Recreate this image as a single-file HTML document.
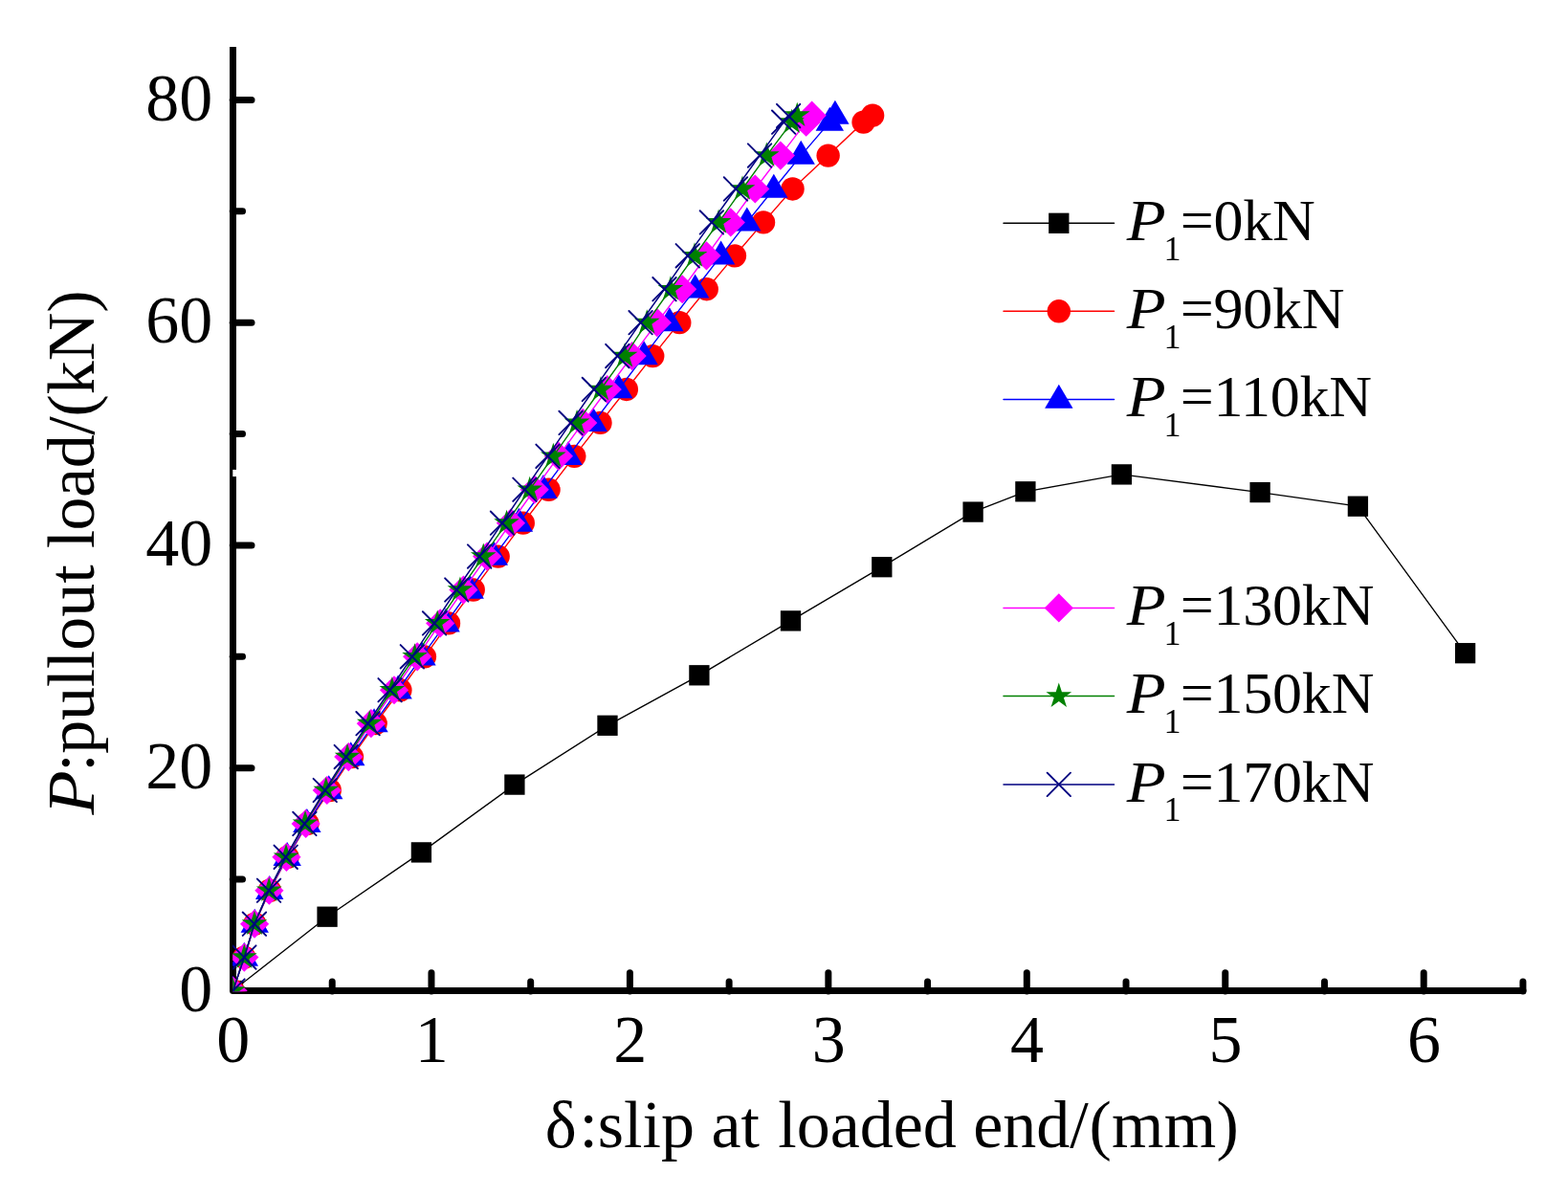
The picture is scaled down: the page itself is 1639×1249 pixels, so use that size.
<!DOCTYPE html>
<html lang="en"><head><meta charset="utf-8"><title>Pullout load vs slip at loaded end</title>
<style>html,body{margin:0;padding:0;background:#fff}body{width:1639px;height:1249px;overflow:hidden}svg{display:block}text{font-family:"Liberation Serif","DejaVu Serif",serif;fill:#000}.tk{font-size:70px}.lg{font-size:62px}.it{font-style:italic}.sub{font-size:36px}</style></head><body>
<svg width="1639" height="1249" viewBox="0 0 1639 1249">
<rect width="1639" height="1249" fill="#fff"/>
<defs><clipPath id="plot"><rect x="243.2" y="0" width="1400" height="1036.2"/></clipPath></defs>
<g stroke="#000" stroke-width="7" fill="none" stroke-linecap="round" stroke-linejoin="round">
<path stroke-linecap="butt" d="M243.5 49V1035.5"/>
<path d="M243.5 1035.5H1592"/>
<path d="M243.2 919.11h10.3"/>
<path d="M243.2 802.72h19.8"/>
<path d="M243.2 686.33h10.3"/>
<path d="M243.2 569.94h19.8"/>
<path d="M243.2 453.55h10.3"/>
<path d="M243.2 337.16h19.8"/>
<path d="M243.2 220.77h10.3"/>
<path d="M243.2 104.38h19.8"/>
<path d="M347.23 1036.1v-10"/>
<path d="M450.95 1036.1v-19.4"/>
<path d="M554.67 1036.1v-10"/>
<path d="M658.4 1036.1v-19.4"/>
<path d="M762.12 1036.1v-10"/>
<path d="M865.85 1036.1v-19.4"/>
<path d="M969.57 1036.1v-10"/>
<path d="M1073.3 1036.1v-19.4"/>
<path d="M1177.03 1036.1v-10"/>
<path d="M1280.75 1036.1v-19.4"/>
<path d="M1384.47 1036.1v-10"/>
<path d="M1488.2 1036.1v-19.4"/>
<path d="M1591.92 1036.1v-10"/>
</g>
<rect x="243.3" y="490.9" width="4.2" height="7.2" fill="#fff"/>
<text class="tk" text-anchor="end" x="222.2" y="1056.8">0</text>
<text class="tk" text-anchor="end" x="222.2" y="824.1">20</text>
<text class="tk" text-anchor="end" x="222.2" y="590.7">40</text>
<text class="tk" text-anchor="end" x="222.2" y="358.4">60</text>
<text class="tk" text-anchor="end" x="222.2" y="126.4">80</text>
<text class="tk" text-anchor="middle" x="243.8" y="1110.2">0</text>
<text class="tk" text-anchor="middle" x="451.25" y="1110.2">1</text>
<text class="tk" text-anchor="middle" x="658.7" y="1110.2">2</text>
<text class="tk" text-anchor="middle" x="866.15" y="1110.2">3</text>
<text class="tk" text-anchor="middle" x="1073.6" y="1110.2">4</text>
<text class="tk" text-anchor="middle" x="1281.05" y="1110.2">5</text>
<text class="tk" text-anchor="middle" x="1488.5" y="1110.2">6</text>
<text class="tk" y="1199.3"><tspan x="569.8">δ</tspan><tspan x="605.4">:slip at </tspan><tspan x="813.2">loaded </tspan><tspan x="1017.3">end/</tspan><tspan x="1138.5" letter-spacing="0.25">(mm)</tspan></text>
<text class="tk it" transform="translate(98.2 851.59) rotate(-90) scale(1.08 1)" x="0" y="0">P</text>
<text class="tk" transform="translate(98.2 853.49) rotate(-90)" x="46.76 65.7 100.4 135.2 154.25 173.69 208.69 243.69 262.94 280.34 299.09 333.59 364.15 398.85 418 441.31 476.31 526.86" y="0">:pullout load/(kN)</text>
<g clip-path="url(#plot)">
<polyline fill="none" stroke="#000" stroke-width="1.35" points="243.5,1035.5 342.05,958.2 440.4,890.9 537.9,820.1 635,758.3 730.9,705.8 826.5,648.9 921.8,592.7 1017.1,535.1 1071.9,513.8 1172.4,495.9 1317.1,514.6 1419.4,529.2 1531.6,682.7"/>
<rect x="331.4" y="947.55" width="21.3" height="21.3" fill="#000"/>
<rect x="429.75" y="880.25" width="21.3" height="21.3" fill="#000"/>
<rect x="527.25" y="809.45" width="21.3" height="21.3" fill="#000"/>
<rect x="624.35" y="747.65" width="21.3" height="21.3" fill="#000"/>
<rect x="720.25" y="695.15" width="21.3" height="21.3" fill="#000"/>
<rect x="815.85" y="638.25" width="21.3" height="21.3" fill="#000"/>
<rect x="911.15" y="582.05" width="21.3" height="21.3" fill="#000"/>
<rect x="1006.45" y="524.45" width="21.3" height="21.3" fill="#000"/>
<rect x="1061.25" y="503.15" width="21.3" height="21.3" fill="#000"/>
<rect x="1161.75" y="485.25" width="21.3" height="21.3" fill="#000"/>
<rect x="1306.45" y="503.95" width="21.3" height="21.3" fill="#000"/>
<rect x="1408.75" y="518.55" width="21.3" height="21.3" fill="#000"/>
<rect x="1520.95" y="672.05" width="21.3" height="21.3" fill="#000"/>
<rect x="232.85" y="1024.85" width="21.3" height="21.3" fill="#000"/>
<polyline fill="none" stroke="#f00" stroke-width="1.4" points="243.5,1035.5 255.32,1000.58 266.32,965.67 281.88,930.75 300.55,895.83 321.5,860.91 344.74,826 367.97,791.08 392.66,756.16 418.38,721.25 443.9,686.33 469,651.41 494.72,616.5 520.65,581.58 546.79,546.66 573.55,511.75 600.31,476.83 627.49,441.91 654.87,406.99 682.26,372.08 710.26,337.16 738.68,302.24 767.93,267.33 798.01,232.41 828.51,197.49 865.64,162.58 902.57,127.66 912.11,120.67"/>
<circle cx="243.5" cy="1035.5" r="12.2" fill="#f00"/>
<circle cx="255.32" cy="1000.58" r="12.2" fill="#f00"/>
<circle cx="266.32" cy="965.67" r="12.2" fill="#f00"/>
<circle cx="281.88" cy="930.75" r="12.2" fill="#f00"/>
<circle cx="300.55" cy="895.83" r="12.2" fill="#f00"/>
<circle cx="321.5" cy="860.91" r="12.2" fill="#f00"/>
<circle cx="344.74" cy="826" r="12.2" fill="#f00"/>
<circle cx="367.97" cy="791.08" r="12.2" fill="#f00"/>
<circle cx="392.66" cy="756.16" r="12.2" fill="#f00"/>
<circle cx="418.38" cy="721.25" r="12.2" fill="#f00"/>
<circle cx="443.9" cy="686.33" r="12.2" fill="#f00"/>
<circle cx="469" cy="651.41" r="12.2" fill="#f00"/>
<circle cx="494.72" cy="616.5" r="12.2" fill="#f00"/>
<circle cx="520.65" cy="581.58" r="12.2" fill="#f00"/>
<circle cx="546.79" cy="546.66" r="12.2" fill="#f00"/>
<circle cx="573.55" cy="511.75" r="12.2" fill="#f00"/>
<circle cx="600.31" cy="476.83" r="12.2" fill="#f00"/>
<circle cx="627.49" cy="441.91" r="12.2" fill="#f00"/>
<circle cx="654.87" cy="406.99" r="12.2" fill="#f00"/>
<circle cx="682.26" cy="372.08" r="12.2" fill="#f00"/>
<circle cx="710.26" cy="337.16" r="12.2" fill="#f00"/>
<circle cx="738.68" cy="302.24" r="12.2" fill="#f00"/>
<circle cx="767.93" cy="267.33" r="12.2" fill="#f00"/>
<circle cx="798.01" cy="232.41" r="12.2" fill="#f00"/>
<circle cx="828.51" cy="197.49" r="12.2" fill="#f00"/>
<circle cx="865.64" cy="162.58" r="12.2" fill="#f00"/>
<circle cx="902.57" cy="127.66" r="12.2" fill="#f00"/>
<circle cx="912.11" cy="120.67" r="12.2" fill="#f00"/>
<polyline fill="none" stroke="#00f" stroke-width="1.4" points="243.5,1035.5 255.32,1000.58 266.24,965.67 281.71,930.75 300.18,895.83 320.88,860.91 343.74,826 366.73,791.08 391.04,756.16 416.1,721.25 440.99,686.33 466.09,651.41 491.2,616.5 516.3,581.58 542.44,546.66 567.95,511.75 594.09,476.83 620.23,441.91 646.78,406.99 673.13,372.08 699.89,337.16 726.65,302.24 753.62,267.33 780.8,232.41 808.8,197.49 837.22,162.58 867.3,127.66 872.9,120.67"/>
<polygon fill="#00f" points="243.5,1019.7 258.2,1044.7 228.8,1044.7"/>
<polygon fill="#00f" points="255.32,984.78 270.02,1009.78 240.62,1009.78"/>
<polygon fill="#00f" points="266.24,949.87 280.94,974.87 251.54,974.87"/>
<polygon fill="#00f" points="281.71,914.95 296.41,939.95 267.01,939.95"/>
<polygon fill="#00f" points="300.18,880.03 314.88,905.03 285.48,905.03"/>
<polygon fill="#00f" points="320.88,845.12 335.58,870.12 306.18,870.12"/>
<polygon fill="#00f" points="343.74,810.2 358.44,835.2 329.04,835.2"/>
<polygon fill="#00f" points="366.73,775.28 381.43,800.28 352.03,800.28"/>
<polygon fill="#00f" points="391.04,740.36 405.74,765.36 376.34,765.36"/>
<polygon fill="#00f" points="416.1,705.45 430.8,730.45 401.4,730.45"/>
<polygon fill="#00f" points="440.99,670.53 455.69,695.53 426.29,695.53"/>
<polygon fill="#00f" points="466.09,635.61 480.79,660.61 451.39,660.61"/>
<polygon fill="#00f" points="491.2,600.7 505.9,625.7 476.5,625.7"/>
<polygon fill="#00f" points="516.3,565.78 531,590.78 501.6,590.78"/>
<polygon fill="#00f" points="542.44,530.86 557.14,555.86 527.74,555.86"/>
<polygon fill="#00f" points="567.95,495.94 582.65,520.95 553.25,520.95"/>
<polygon fill="#00f" points="594.09,461.03 608.79,486.03 579.39,486.03"/>
<polygon fill="#00f" points="620.23,426.11 634.93,451.11 605.53,451.11"/>
<polygon fill="#00f" points="646.78,391.19 661.48,416.19 632.08,416.19"/>
<polygon fill="#00f" points="673.13,356.28 687.83,381.28 658.43,381.28"/>
<polygon fill="#00f" points="699.89,321.36 714.59,346.36 685.19,346.36"/>
<polygon fill="#00f" points="726.65,286.44 741.35,311.44 711.95,311.44"/>
<polygon fill="#00f" points="753.62,251.53 768.32,276.53 738.92,276.53"/>
<polygon fill="#00f" points="780.8,216.61 795.5,241.61 766.1,241.61"/>
<polygon fill="#00f" points="808.8,181.69 823.5,206.69 794.1,206.69"/>
<polygon fill="#00f" points="837.22,146.78 851.92,171.78 822.52,171.78"/>
<polygon fill="#00f" points="867.3,111.86 882,136.86 852.6,136.86"/>
<polygon fill="#00f" points="872.9,104.87 887.6,129.87 858.2,129.87"/>
<polyline fill="none" stroke="#f0f" stroke-width="1.4" points="243.5,1035.5 255.32,1000.58 266.07,965.67 281.39,930.75 299.45,895.83 319.67,860.91 341.8,826 364.3,791.08 387.88,756.16 412.02,721.25 436.19,686.33 460.19,651.41 484.44,616.5 509.15,581.58 533.94,546.66 558.74,511.75 583.91,476.83 609.25,441.91 634.75,406.99 660.68,372.08 686.82,337.16 713.17,302.24 738.48,267.33 763.78,232.41 789.3,197.49 815.85,162.58 842.62,127.66 848.63,120.67"/>
<polygon fill="#f0f" points="243.5,1020.4 258.6,1035.5 243.5,1050.6 228.4,1035.5"/>
<polygon fill="#f0f" points="255.32,985.48 270.42,1000.58 255.32,1015.68 240.22,1000.58"/>
<polygon fill="#f0f" points="266.07,950.57 281.17,965.67 266.07,980.77 250.97,965.67"/>
<polygon fill="#f0f" points="281.39,915.65 296.49,930.75 281.39,945.85 266.29,930.75"/>
<polygon fill="#f0f" points="299.45,880.73 314.55,895.83 299.45,910.93 284.35,895.83"/>
<polygon fill="#f0f" points="319.67,845.81 334.77,860.91 319.67,876.01 304.57,860.91"/>
<polygon fill="#f0f" points="341.8,810.9 356.9,826 341.8,841.1 326.7,826"/>
<polygon fill="#f0f" points="364.3,775.98 379.4,791.08 364.3,806.18 349.2,791.08"/>
<polygon fill="#f0f" points="387.88,741.06 402.98,756.16 387.88,771.26 372.78,756.16"/>
<polygon fill="#f0f" points="412.02,706.15 427.12,721.25 412.02,736.35 396.92,721.25"/>
<polygon fill="#f0f" points="436.19,671.23 451.29,686.33 436.19,701.43 421.09,686.33"/>
<polygon fill="#f0f" points="460.19,636.31 475.29,651.41 460.19,666.51 445.09,651.41"/>
<polygon fill="#f0f" points="484.44,601.4 499.54,616.5 484.44,631.6 469.34,616.5"/>
<polygon fill="#f0f" points="509.15,566.48 524.25,581.58 509.15,596.68 494.05,581.58"/>
<polygon fill="#f0f" points="533.94,531.56 549.04,546.66 533.94,561.76 518.84,546.66"/>
<polygon fill="#f0f" points="558.74,496.64 573.84,511.75 558.74,526.85 543.64,511.75"/>
<polygon fill="#f0f" points="583.91,461.73 599.01,476.83 583.91,491.93 568.81,476.83"/>
<polygon fill="#f0f" points="609.25,426.81 624.35,441.91 609.25,457.01 594.15,441.91"/>
<polygon fill="#f0f" points="634.75,391.89 649.85,406.99 634.75,422.09 619.65,406.99"/>
<polygon fill="#f0f" points="660.68,356.98 675.78,372.08 660.68,387.18 645.58,372.08"/>
<polygon fill="#f0f" points="686.82,322.06 701.92,337.16 686.82,352.26 671.72,337.16"/>
<polygon fill="#f0f" points="713.17,287.14 728.27,302.24 713.17,317.34 698.07,302.24"/>
<polygon fill="#f0f" points="738.48,252.23 753.58,267.33 738.48,282.43 723.38,267.33"/>
<polygon fill="#f0f" points="763.78,217.31 778.88,232.41 763.78,247.51 748.68,232.41"/>
<polygon fill="#f0f" points="789.3,182.39 804.4,197.49 789.3,212.59 774.2,197.49"/>
<polygon fill="#f0f" points="815.85,147.48 830.95,162.58 815.85,177.68 800.75,162.58"/>
<polygon fill="#f0f" points="842.62,112.56 857.72,127.66 842.62,142.76 827.52,127.66"/>
<polygon fill="#f0f" points="848.63,105.57 863.73,120.67 848.63,135.77 833.53,120.67"/>
<polyline fill="none" stroke="#008000" stroke-width="1.4" points="243.5,1035.5 255.32,1000.58 265.99,965.67 281.22,930.75 299.07,895.83 319.04,860.91 340.8,826 363.05,791.08 386.27,756.16 409.86,721.25 433.57,686.33 457.2,651.41 480.96,616.5 505.25,581.58 529.58,546.66 553.72,511.75 578.35,476.83 603.07,441.91 628,406.99 653.09,372.08 676.24,337.16 700.93,302.24 726.03,267.33 751.13,232.41 776.02,197.49 801.33,162.58 827.68,127.66 833.28,120.67"/>
<polygon fill="#008000" points="243.5,1021.5 246.64,1031.17 256.81,1031.17 248.59,1037.15 251.73,1046.83 243.5,1040.85 235.27,1046.83 238.41,1037.15 230.19,1031.17 240.36,1031.17"/>
<polygon fill="#008000" points="255.32,986.58 258.47,996.25 268.64,996.26 260.41,1002.24 263.55,1011.91 255.32,1005.93 247.1,1011.91 250.24,1002.24 242.01,996.26 252.18,996.25"/>
<polygon fill="#008000" points="265.99,951.67 269.14,961.34 279.31,961.34 271.08,967.32 274.22,976.99 265.99,971.02 257.76,976.99 260.9,967.32 252.68,961.34 262.85,961.34"/>
<polygon fill="#008000" points="281.22,916.75 284.37,926.42 294.54,926.42 286.31,932.4 289.45,942.08 281.22,936.1 272.99,942.08 276.13,932.4 267.91,926.42 278.08,926.42"/>
<polygon fill="#008000" points="299.07,881.83 302.22,891.5 312.39,891.51 304.16,897.49 307.3,907.16 299.07,901.18 290.84,907.16 293.99,897.49 285.76,891.51 295.93,891.5"/>
<polygon fill="#008000" points="319.04,846.91 322.19,856.59 332.36,856.59 324.13,862.57 327.27,872.24 319.04,866.26 310.81,872.24 313.95,862.57 305.73,856.59 315.9,856.59"/>
<polygon fill="#008000" points="340.8,812 343.95,821.67 354.12,821.67 345.89,827.65 349.03,837.32 340.8,831.35 332.57,837.32 335.71,827.65 327.49,821.67 337.66,821.67"/>
<polygon fill="#008000" points="363.05,777.08 366.2,786.75 376.37,786.75 368.14,792.73 371.28,802.41 363.05,796.43 354.82,802.41 357.97,792.73 349.74,786.75 359.91,786.75"/>
<polygon fill="#008000" points="386.27,742.16 389.41,751.84 399.58,751.84 391.35,757.82 394.49,767.49 386.27,761.51 378.04,767.49 381.18,757.82 372.95,751.84 383.12,751.84"/>
<polygon fill="#008000" points="409.86,707.25 413,716.92 423.17,716.92 414.95,722.9 418.09,732.57 409.86,726.6 401.63,732.57 404.77,722.9 396.54,716.92 406.71,716.92"/>
<polygon fill="#008000" points="433.57,672.33 436.72,682 446.89,682 438.66,687.98 441.8,697.66 433.57,691.68 425.34,697.66 428.48,687.98 420.26,682 430.43,682"/>
<polygon fill="#008000" points="457.2,637.41 460.34,647.08 470.51,647.09 462.29,653.07 465.43,662.74 457.2,656.76 448.97,662.74 452.11,653.07 443.88,647.09 454.05,647.08"/>
<polygon fill="#008000" points="480.96,602.5 484.1,612.17 494.27,612.17 486.04,618.15 489.18,627.82 480.96,621.85 472.73,627.82 475.87,618.15 467.64,612.17 477.81,612.17"/>
<polygon fill="#008000" points="505.25,567.58 508.39,577.25 518.56,577.25 510.34,583.23 513.48,592.91 505.25,586.93 497.02,592.91 500.16,583.23 491.93,577.25 502.1,577.25"/>
<polygon fill="#008000" points="529.58,532.66 532.73,542.33 542.9,542.34 534.67,548.32 537.81,557.99 529.58,552.01 521.35,557.99 524.5,548.32 516.27,542.34 526.44,542.33"/>
<polygon fill="#008000" points="553.72,497.75 556.87,507.42 567.04,507.42 558.81,513.4 561.95,523.07 553.72,517.1 545.49,523.07 548.63,513.4 540.41,507.42 550.58,507.42"/>
<polygon fill="#008000" points="578.35,462.83 581.5,472.5 591.67,472.5 583.44,478.48 586.58,488.15 578.35,482.18 570.12,488.15 573.27,478.48 565.04,472.5 575.21,472.5"/>
<polygon fill="#008000" points="603.07,427.91 606.22,437.58 616.39,437.58 608.16,443.56 611.3,453.24 603.07,447.26 594.84,453.24 597.98,443.56 589.76,437.58 599.93,437.58"/>
<polygon fill="#008000" points="628,392.99 631.14,402.67 641.31,402.67 633.08,408.65 636.23,418.32 628,412.34 619.77,418.32 622.91,408.65 614.68,402.67 624.85,402.67"/>
<polygon fill="#008000" points="653.09,358.08 656.23,367.75 666.4,367.75 658.17,373.73 661.31,383.4 653.09,377.43 644.86,383.4 648,373.73 639.77,367.75 649.94,367.75"/>
<polygon fill="#008000" points="676.24,323.16 679.39,332.83 689.56,332.83 681.33,338.81 684.47,348.49 676.24,342.51 668.01,348.49 671.15,338.81 662.93,332.83 673.1,332.83"/>
<polygon fill="#008000" points="700.93,288.24 704.07,297.91 714.24,297.92 706.02,303.9 709.16,313.57 700.93,307.59 692.7,313.57 695.84,303.9 687.61,297.92 697.78,297.91"/>
<polygon fill="#008000" points="726.03,253.33 729.17,263 739.34,263 731.12,268.98 734.26,278.65 726.03,272.68 717.8,278.65 720.94,268.98 712.71,263 722.88,263"/>
<polygon fill="#008000" points="751.13,218.41 754.27,228.08 764.44,228.08 756.22,234.06 759.36,243.74 751.13,237.76 742.9,243.74 746.04,234.06 737.82,228.08 747.99,228.08"/>
<polygon fill="#008000" points="776.02,183.49 779.17,193.16 789.34,193.17 781.11,199.15 784.25,208.82 776.02,202.84 767.8,208.82 770.94,199.15 762.71,193.17 772.88,193.16"/>
<polygon fill="#008000" points="801.33,148.58 804.48,158.25 814.65,158.25 806.42,164.23 809.56,173.9 801.33,167.93 793.1,173.9 796.24,164.23 788.02,158.25 798.19,158.25"/>
<polygon fill="#008000" points="827.68,113.66 830.82,123.33 840.99,123.33 832.77,129.31 835.91,138.98 827.68,133.01 819.45,138.98 822.59,129.31 814.36,123.33 824.53,123.33"/>
<polygon fill="#008000" points="833.28,106.67 836.43,116.35 846.6,116.35 838.37,122.33 841.51,132 833.28,126.02 825.05,132 828.19,122.33 819.97,116.35 830.14,116.35"/>
<polyline fill="none" stroke="#000080" stroke-width="1.5" points="243.5,1035.5 255.32,1000.58 265.9,965.67 281.05,930.75 298.68,895.83 318.39,860.91 339.76,826 361.75,791.08 384.57,756.16 407.59,721.25 430.83,686.33 454.06,651.41 477.3,616.5 501.15,581.58 525.01,546.66 548.45,511.75 572.52,476.83 596.58,441.91 620.85,406.99 645.33,372.08 669.6,337.16 694.5,302.24 718.77,267.33 743.87,232.41 768.97,197.49 794.07,162.58 819.17,127.66 824.15,121.02"/>
<path fill="none" stroke="#000080" stroke-width="1.9" stroke-linecap="round" d="M231.3 1023.3L255.7 1047.7M231.3 1047.7L255.7 1023.3"/>
<path fill="none" stroke="#000080" stroke-width="1.9" stroke-linecap="round" d="M243.12 988.38L267.52 1012.78M243.12 1012.78L267.52 988.38"/>
<path fill="none" stroke="#000080" stroke-width="1.9" stroke-linecap="round" d="M253.7 953.47L278.1 977.87M253.7 977.87L278.1 953.47"/>
<path fill="none" stroke="#000080" stroke-width="1.9" stroke-linecap="round" d="M268.85 918.55L293.25 942.95M268.85 942.95L293.25 918.55"/>
<path fill="none" stroke="#000080" stroke-width="1.9" stroke-linecap="round" d="M286.48 883.63L310.88 908.03M286.48 908.03L310.88 883.63"/>
<path fill="none" stroke="#000080" stroke-width="1.9" stroke-linecap="round" d="M306.19 848.71L330.59 873.12M306.19 873.12L330.59 848.71"/>
<path fill="none" stroke="#000080" stroke-width="1.9" stroke-linecap="round" d="M327.56 813.8L351.96 838.2M327.56 838.2L351.96 813.8"/>
<path fill="none" stroke="#000080" stroke-width="1.9" stroke-linecap="round" d="M349.55 778.88L373.95 803.28M349.55 803.28L373.95 778.88"/>
<path fill="none" stroke="#000080" stroke-width="1.9" stroke-linecap="round" d="M372.37 743.96L396.77 768.36M372.37 768.36L396.77 743.96"/>
<path fill="none" stroke="#000080" stroke-width="1.9" stroke-linecap="round" d="M395.39 709.05L419.79 733.45M395.39 733.45L419.79 709.05"/>
<path fill="none" stroke="#000080" stroke-width="1.9" stroke-linecap="round" d="M418.63 674.13L443.03 698.53M418.63 698.53L443.03 674.13"/>
<path fill="none" stroke="#000080" stroke-width="1.9" stroke-linecap="round" d="M441.86 639.21L466.26 663.61M441.86 663.61L466.26 639.21"/>
<path fill="none" stroke="#000080" stroke-width="1.9" stroke-linecap="round" d="M465.1 604.3L489.5 628.7M465.1 628.7L489.5 604.3"/>
<path fill="none" stroke="#000080" stroke-width="1.9" stroke-linecap="round" d="M488.95 569.38L513.35 593.78M488.95 593.78L513.35 569.38"/>
<path fill="none" stroke="#000080" stroke-width="1.9" stroke-linecap="round" d="M512.81 534.46L537.21 558.86M512.81 558.86L537.21 534.46"/>
<path fill="none" stroke="#000080" stroke-width="1.9" stroke-linecap="round" d="M536.25 499.55L560.65 523.95M536.25 523.95L560.65 499.55"/>
<path fill="none" stroke="#000080" stroke-width="1.9" stroke-linecap="round" d="M560.32 464.63L584.72 489.03M560.32 489.03L584.72 464.63"/>
<path fill="none" stroke="#000080" stroke-width="1.9" stroke-linecap="round" d="M584.38 429.71L608.78 454.11M584.38 454.11L608.78 429.71"/>
<path fill="none" stroke="#000080" stroke-width="1.9" stroke-linecap="round" d="M608.65 394.79L633.05 419.19M608.65 419.19L633.05 394.79"/>
<path fill="none" stroke="#000080" stroke-width="1.9" stroke-linecap="round" d="M633.13 359.88L657.53 384.28M633.13 384.28L657.53 359.88"/>
<path fill="none" stroke="#000080" stroke-width="1.9" stroke-linecap="round" d="M657.4 324.96L681.8 349.36M657.4 349.36L681.8 324.96"/>
<path fill="none" stroke="#000080" stroke-width="1.9" stroke-linecap="round" d="M682.3 290.04L706.7 314.44M682.3 314.44L706.7 290.04"/>
<path fill="none" stroke="#000080" stroke-width="1.9" stroke-linecap="round" d="M706.57 255.13L730.97 279.53M706.57 279.53L730.97 255.13"/>
<path fill="none" stroke="#000080" stroke-width="1.9" stroke-linecap="round" d="M731.67 220.21L756.07 244.61M731.67 244.61L756.07 220.21"/>
<path fill="none" stroke="#000080" stroke-width="1.9" stroke-linecap="round" d="M756.77 185.29L781.17 209.69M756.77 209.69L781.17 185.29"/>
<path fill="none" stroke="#000080" stroke-width="1.9" stroke-linecap="round" d="M781.87 150.38L806.27 174.78M781.87 174.78L806.27 150.38"/>
<path fill="none" stroke="#000080" stroke-width="1.9" stroke-linecap="round" d="M806.97 115.46L831.37 139.86M806.97 139.86L831.37 115.46"/>
<path fill="none" stroke="#000080" stroke-width="1.9" stroke-linecap="round" d="M811.95 108.82L836.35 133.22M811.95 133.22L836.35 108.82"/>
</g>
<path stroke="#000" stroke-width="1.5" stroke-linecap="round" d="M1049 233.3H1164.5"/>
<rect x="1096.15" y="222.65" width="21.3" height="21.3" fill="#000"/>
<text class="lg it" transform="translate(1177.7 251) scale(1.08 1)" x="0" y="0">P</text><text class="lg" x="1216.4" y="251"><tspan class="sub" dy="20.8">1</tspan><tspan x="1233.7" dy="-20.8" letter-spacing="-0.2">=0kN</tspan></text>
<path stroke="#f00" stroke-width="1.5" stroke-linecap="round" d="M1049 325.3H1164.5"/>
<circle cx="1106.8" cy="325.3" r="12.2" fill="#f00"/>
<text class="lg it" transform="translate(1177.7 343) scale(1.08 1)" x="0" y="0">P</text><text class="lg" x="1216.4" y="343"><tspan class="sub" dy="20.8">1</tspan><tspan x="1233.7" dy="-20.8" letter-spacing="-0.2">=90kN</tspan></text>
<path stroke="#00f" stroke-width="1.5" stroke-linecap="round" d="M1049 417.5H1164.5"/>
<polygon fill="#00f" points="1106.8,401.7 1121.5,426.7 1092.1,426.7"/>
<text class="lg it" transform="translate(1177.7 435) scale(1.08 1)" x="0" y="0">P</text><text class="lg" x="1216.4" y="435"><tspan class="sub" dy="20.8">1</tspan><tspan x="1233.7" dy="-20.8" letter-spacing="-0.2">=110kN</tspan></text>
<path stroke="#f0f" stroke-width="1.5" stroke-linecap="round" d="M1049 635.4H1164.5"/>
<polygon fill="#f0f" points="1106.8,620.3 1121.9,635.4 1106.8,650.5 1091.7,635.4"/>
<text class="lg it" transform="translate(1177.7 652.7) scale(1.08 1)" x="0" y="0">P</text><text class="lg" x="1216.4" y="652.7"><tspan class="sub" dy="20.8">1</tspan><tspan x="1233.7" dy="-20.8" letter-spacing="-0.2">=130kN</tspan></text>
<path stroke="#008000" stroke-width="1.5" stroke-linecap="round" d="M1049 727.6H1164.5"/>
<polygon fill="#008000" points="1106.8,713.6 1109.94,723.27 1120.11,723.27 1111.89,729.25 1115.03,738.93 1106.8,732.95 1098.57,738.93 1101.71,729.25 1093.49,723.27 1103.66,723.27"/>
<text class="lg it" transform="translate(1177.7 744.9) scale(1.08 1)" x="0" y="0">P</text><text class="lg" x="1216.4" y="744.9"><tspan class="sub" dy="20.8">1</tspan><tspan x="1233.7" dy="-20.8" letter-spacing="-0.2">=150kN</tspan></text>
<path stroke="#000080" stroke-width="1.5" stroke-linecap="round" d="M1049 819.9H1164.5"/>
<path fill="none" stroke="#000080" stroke-width="1.9" stroke-linecap="round" d="M1094.6 807.7L1119 832.1M1094.6 832.1L1119 807.7"/>
<text class="lg it" transform="translate(1177.7 837.6) scale(1.08 1)" x="0" y="0">P</text><text class="lg" x="1216.4" y="837.6"><tspan class="sub" dy="20.8">1</tspan><tspan x="1233.7" dy="-20.8" letter-spacing="-0.2">=170kN</tspan></text>
</svg></body></html>
